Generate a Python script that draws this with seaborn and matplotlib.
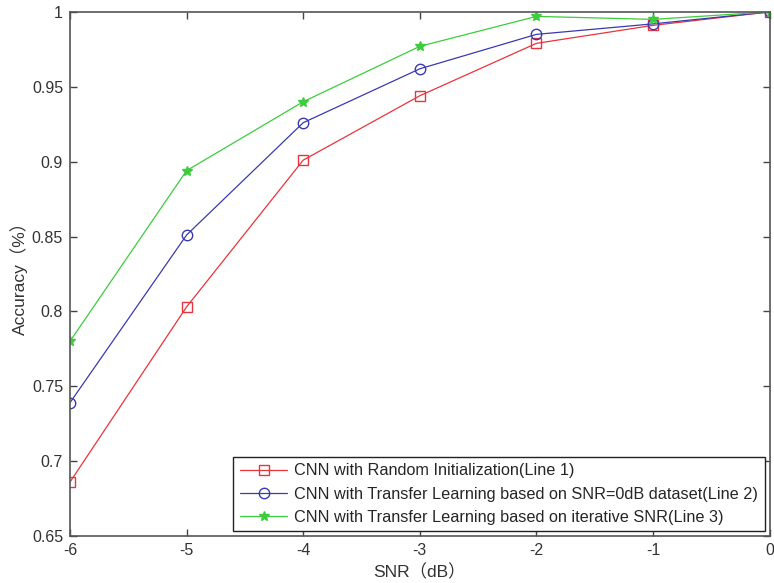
import pandas as pd
import matplotlib.pyplot as plt
import seaborn as sns
from matplotlib.ticker import FormatStrFormatter

snr = [-6, -5, -4, -3, -2, -1, 0]
line1 = [0.686, 0.803, 0.901, 0.944, 0.979, 0.991, 1.0]
line2 = [0.739, 0.851, 0.926, 0.962, 0.985, 0.992, 1.0]
line3 = [0.780, 0.894, 0.940, 0.977, 0.997, 0.995, 1.0]
names = ['CNN with Random Initialization(Line 1)',
         'CNN with Transfer Learning based on SNR=0dB dataset(Line 2)',
         'CNN with Transfer Learning based on iterative SNR(Line 3)']

df = pd.concat([pd.DataFrame({'SNR': snr, 'Accuracy': v, 'method': n})
                for v, n in zip([line1, line2, line3], names)])

sns.set_style('ticks')
plt.rcParams['font.family'] = ['Liberation Sans', 'Noto Sans CJK SC']
plt.rcParams['axes.unicode_minus'] = False

fig = plt.figure(figsize=(7.74, 5.83), dpi=100)
ax = fig.add_axes([0.0904, 0.0806, 0.904, 0.899])

pal = {names[0]: '#e8343c', names[1]: '#3a3ab0', names[2]: '#3ccc3c'}
mk = {names[0]: 's', names[1]: 'o', names[2]: '*'}
sns.lineplot(data=df, x='SNR', y='Accuracy', hue='method', style='method',
             palette=pal, markers=mk, dashes=False, linewidth=0.9,
             markersize=7.5, ax=ax)

leg = ax.legend(loc='lower right', fontsize=11.7, handlelength=2.9,
                fancybox=False, framealpha=1, edgecolor='#222222',
                borderaxespad=0.3, labelspacing=0.5, handletextpad=0.45,
                borderpad=0.4)
leg.get_frame().set_linewidth(1.0)

# hollow markers with coloured edges (seaborn paints them white)
for l in list(ax.lines) + list(leg.get_lines()):
    c = l.get_color()
    l.set_markeredgecolor(c)
    l.set_markeredgewidth(1.0)
    if l.get_marker() == '*':
        l.set_markerfacecolor(c)
        l.set_markersize(7)
    else:
        l.set_markerfacecolor('none')

ax.set_xlim(-6, 0)
ax.set_ylim(0.65, 1.0)
ax.set_xticks(snr)
ax.set_yticks([0.65, 0.7, 0.75, 0.8, 0.85, 0.9, 0.95, 1.0])
ax.yaxis.set_major_formatter(FormatStrFormatter('%g'))
ax.tick_params(direction='in', top=True, right=True, length=5, width=1,
               colors='#444444', labelsize=11.5, labelcolor='#333333', pad=5)
for s in ax.spines.values():
    s.set_color('#555555')
    s.set_linewidth(1.2)
ax.set_xlabel('SNR（dB）', fontsize=12.5, color='#333333', labelpad=4)
ax.set_ylabel('Accuracy（%）', fontsize=12.5, color='#333333', labelpad=3)

fig.savefig('out.png', dpi=100)
